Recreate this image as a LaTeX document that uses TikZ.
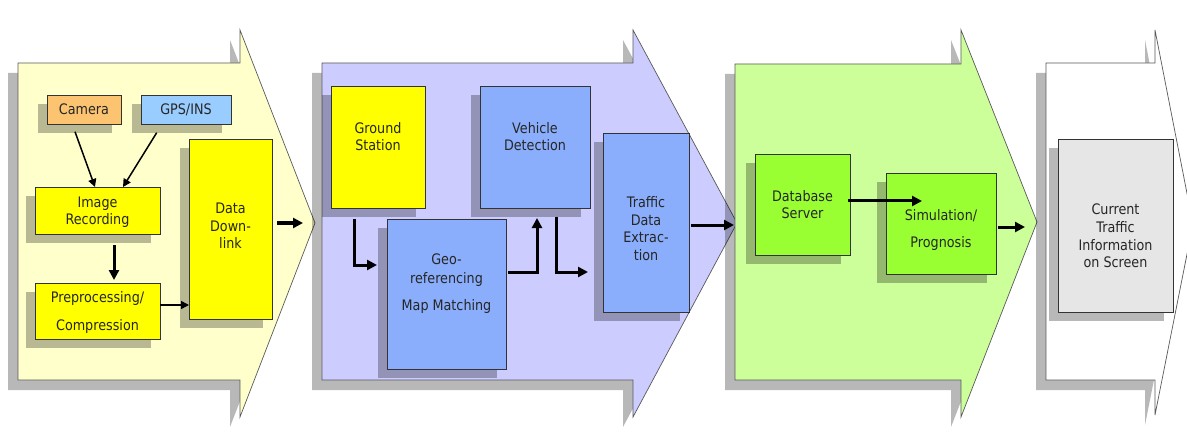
\documentclass[tikz,border=0pt]{standalone}
\usepackage{fontspec}
\setmainfont{DejaVu Sans}[FakeStretch=0.88]
\usetikzlibrary{shadows,arrows.meta,calc}
\newcommand{\bt}[4]{\parbox[c][#2pt][t]{#1pt}{\centering\vspace*{#3pt}#4\par}}
\definecolor{aone}{HTML}{FFFFCC}
\definecolor{atwo}{HTML}{CCCCFF}
\definecolor{athree}{HTML}{CCFF99}
\definecolor{camcol}{HTML}{FCC470}
\definecolor{gpscol}{HTML}{99CCFF}
\definecolor{yel}{HTML}{FFFF00}
\definecolor{blu}{HTML}{8AAEFC}
\definecolor{grn}{HTML}{99FF33}
\definecolor{gry}{HTML}{E6E6E6}
\begin{document}
\begin{tikzpicture}[x=1pt,y=-1pt,
  box/.style={draw=black!80, line width=0.7pt, inner sep=0pt, outer sep=0pt, anchor=north west,
    drop shadow={shadow xshift=-9pt,shadow yshift=-9pt,fill=black,opacity=0.28},
    font=\fontsize{14.5}{17.7}\selectfont, text=black!85},
  bigarr/.style={draw=black!65, line width=0.7pt,
    drop shadow={shadow xshift=-10pt,shadow yshift=-10pt,fill=black,opacity=0.28}},
  thn/.style={line width=1.5pt, -{Triangle[length=8pt,width=8pt]}},
  thk/.style={line width=3pt, -{Triangle[length=10pt,width=10pt]}}]
\useasboundingbox (0,0) rectangle (1187,433);
\clip (0,0) rectangle (1187,433);
\fill[white] (0,0) rectangle (1187,433);
% big arrows
\filldraw[bigarr, fill=aone] (18,63) -- (240,63) -- (240,30) -- (315,223) -- (240,417) -- (240,380) -- (18,380) -- cycle;
\filldraw[bigarr, fill=atwo] (322,63) -- (633,63) -- (633,30) -- (737,223) -- (633,417) -- (633,380) -- (322,380) -- cycle;
\filldraw[bigarr, fill=athree] (735,64) -- (961,64) -- (961,30) -- (1037,222) -- (961,417) -- (961,380) -- (735,380) -- cycle;
\filldraw[bigarr, fill=white] (1046,63) -- (1155,63) -- (1155,30) -- (1193,224) -- (1155,415) -- (1155,380) -- (1046,380) -- cycle;
\coordinate (in2) at (303,223);
\coordinate (in3) at (734,225);
\coordinate (in4) at (1025,227);
% boxes
\node[box, fill=camcol] (cam) at (47,95) {\bt{74}{29}{9}{Camera}};
\node[box, fill=gpscol] (gps) at (141,95) {\bt{90}{29}{9}{GPS/INS}};
\node[box, fill=yel] (img) at (35,187) {\bt{125}{47}{9.5}{Image\\Recording}};
\node[box, fill=yel] (prep) at (35,283) {\bt{125}{56}{8.5}{Preprocessing/\\[10pt]Compression}};
\node[box, fill=yel] (dl) at (189,139) {\bt{83}{180}{64}{Data\\Down-\\link}};
\node[box, fill=yel] (gs) at (331,86) {\bt{94}{122}{36}{Ground\\Station}};
\node[box, fill=blu] (vd) at (480,86) {\bt{110}{122}{36}{Vehicle\\Detection}};
\node[box, fill=blu] (geo) at (387,219) {\bt{119}{150}{35}{Geo-\\[1pt]referencing\\[9pt]Map Matching}};
\node[box, fill=blu] (tde) at (603,133) {\bt{86}{179}{63.5}{Traffic\\Data\\Extrac-\\tion}};
\node[box, fill=grn] (db) at (755,154) {\bt{95}{101}{36}{Database\\Server}};
\node[box, fill=grn] (sim) at (886,173) {\bt{110}{101}{36}{Simulation/\\[10pt]Prognosis}};
\node[box, fill=gry] (cur) at (1058,139) {\bt{115}{173}{65}{Current\\Traffic\\Information\\on Screen}};
% connectors
\draw[thn] ([xshift=-9pt,yshift=-7.7pt]cam.south) -- ([xshift=-2.5pt]img.north);
\draw[thn] ([xshift=-29.3pt,yshift=-8.7pt]gps.south) -- ([xshift=25.5pt]img.north);
\draw[thk] ([xshift=16.5pt,yshift=-11pt]img.south) -- ([xshift=16.5pt,yshift=3pt]prep.north);
\coordinate (p4) at ([yshift=6pt]prep.east);
\draw[thn] (p4) -- (p4 -| dl.west);
\draw[thk] ([xshift=5pt,yshift=6pt]dl.east) -- (in2);
\draw[thk] ([xshift=-24pt,yshift=-11pt]gs.south) |- ([xshift=-10pt,yshift=29pt]geo.west);
\draw[thk] ([xshift=2pt,yshift=22pt]geo.east) -| ([xshift=2pt,yshift=-10pt]vd.south);
\draw[thk] ([xshift=21pt,yshift=-9pt]vd.south) |- ([xshift=-15pt,yshift=-49.5pt]tde.west);
\draw[thk] ([xshift=2pt,yshift=-2.5pt]tde.east) -- (in3);
\draw[thk] ([xshift=-2pt,yshift=3.5pt]db.east) -- ([xshift=-19pt,yshift=22.5pt]sim.center);
\draw[thk] ([xshift=2pt,yshift=-3.5pt]sim.east) -- (in4);
\end{tikzpicture}
\end{document}
